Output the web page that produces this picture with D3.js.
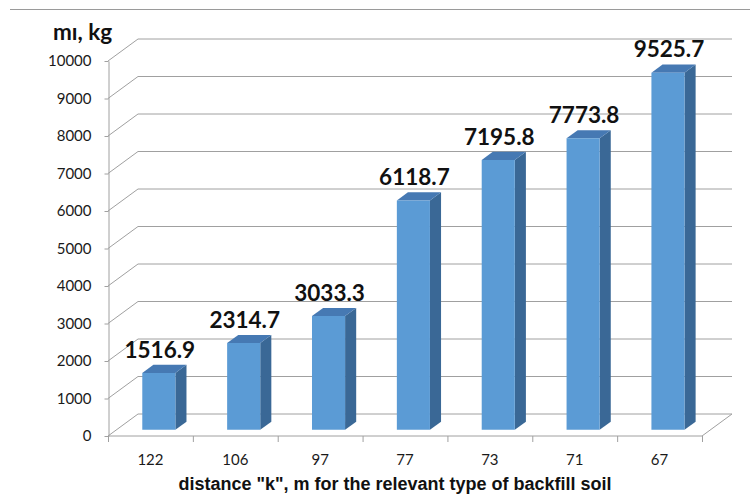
<!DOCTYPE html>
<html>
<head>
<meta charset="utf-8">
<script src="https://cdn.jsdelivr.net/npm/d3@7"></script>
<style>
  html, body { margin: 0; padding: 0; background: #fff; }
  svg { display: block; }
</style>
</head>
<body>
<svg id="chart" width="753" height="498"></svg>
<script>
// Mass per distance category
const categories = ["122", "106", "97", "77", "73", "71", "67"];
const values = [1516.9, 2314.7, 3033.3, 6118.7, 7195.8, 7773.8, 9525.7];
const yTicks = [0, 1000, 2000, 3000, 4000, 5000, 6000, 7000, 8000, 9000, 10000];
const yTitle = "mı, kg";
const xTitle = "distance \"k\", m for the relevant type of backfill soil";

const svg = d3.select("#chart");

// Plot frame (front plane) and the oblique depth offset
const plotLeft = 108, plotRight = 702, plotBottom = 436, plotTop = 61;
const DX = 30, DY = -22;          // full depth of the floor/walls
const F0 = 0.28, F1 = 0.65;       // bar depth span (fraction of floor depth)
const gridColor = "#a0a0a0";

const x = d3.scaleBand().domain(categories).range([plotLeft, plotRight]).padding(0);
const y = d3.scaleLinear().domain([0, 10000]).range([plotBottom, plotTop]);
const barW = x.bandwidth() * 0.39;

// projection of (x, value, depth fraction) to screen
const P = (px, v, f) => [px + f * DX, y(v) + f * DY];
const pts = (arr) => arr.map(p => p.join(",")).join(" ");

// top rule
svg.append("line")
  .attr("x1", 10).attr("x2", 750).attr("y1", 9.5).attr("y2", 9.5)
  .attr("stroke", "#9a9a9a").attr("stroke-width", 1);

const grid = svg.append("g").attr("fill", "none").attr("stroke", gridColor).attr("stroke-width", 1);

// gridlines: left wall diagonal + back wall horizontal
yTicks.forEach(t => {
  grid.append("polyline")
    .attr("points", pts([P(plotLeft, t, 0), P(plotLeft, t, 1), P(plotRight, t, 1)]));
});

// floor: front edge and right edge
grid.append("polyline")
  .attr("points", pts([P(plotLeft, 0, 0), P(plotRight, 0, 0), P(plotRight, 0, 1)]));

// category boundary ticks
const bounds = categories.map(c => x(c)).concat([plotRight]);
bounds.forEach(bx => {
  grid.append("line").attr("x1", bx + 0.5).attr("x2", bx + 0.5)
    .attr("y1", plotBottom).attr("y2", plotBottom + 6);
});

// y axis
const yAxis = d3.axisLeft(y).tickValues(yTicks).tickSize(4).tickSizeOuter(0).tickPadding(13)
  .tickFormat(d3.format("d"));
const yg = svg.append("g").attr("transform", `translate(${plotLeft + 0.5},0)`).call(yAxis);
yg.select(".domain").attr("stroke", gridColor);
yg.selectAll(".tick line").attr("stroke", gridColor);
yg.selectAll(".tick text")
  .attr("font-family", "Lato, 'Open Sans', sans-serif")
  .attr("font-size", 15).attr("fill", "#1a1a1a");

// x category labels
const xAxis = d3.axisBottom(x).tickSize(0).tickPadding(0);
const xg = svg.append("g").attr("transform", `translate(0,${plotBottom})`).call(xAxis);
xg.select(".domain").remove();
xg.selectAll(".tick text")
  .attr("y", 29).attr("dy", 0)
  .attr("font-family", "Lato, 'Open Sans', sans-serif")
  .attr("font-size", 15).attr("fill", "#1a1a1a");

// 3D bars
const bars = svg.append("g");
categories.forEach((c, i) => {
  const v = values[i];
  const cx = x(c) + x.bandwidth() / 2;
  const x0 = cx - barW / 2, x1 = cx + barW / 2;
  // side face
  bars.append("polygon")
    .attr("points", pts([P(x1, 0, F0), P(x1, 0, F1), P(x1, v, F1), P(x1, v, F0)]))
    .attr("fill", "#3a6896");
  // top face
  bars.append("polygon")
    .attr("points", pts([P(x0, v, F0), P(x1, v, F0), P(x1, v, F1), P(x0, v, F1)]))
    .attr("fill", "#4679b3");
  // front face
  bars.append("polygon")
    .attr("points", pts([P(x0, 0, F0), P(x1, 0, F0), P(x1, v, F0), P(x0, v, F0)]))
    .attr("fill", "#5b9bd5");
  // value label
  const lp = P(cx, v, F1);
  bars.append("text")
    .attr("x", P(cx, v, F0)[0] + 1).attr("y", lp[1] - 7)
    .attr("text-anchor", "middle")
    .attr("font-family", "Lato, sans-serif").attr("font-weight", 700)
    .attr("font-size", 22.5).attr("fill", "#111")
    .text(d3.format(".1f")(v));
});

// axis titles
svg.append("text")
  .attr("x", 53).attr("y", 40)
  .attr("font-family", "Lato, sans-serif").attr("font-weight", 700)
  .attr("font-size", 22.5).attr("fill", "#111")
  .text(yTitle);

svg.append("text")
  .attr("x", 395).attr("y", 490).attr("text-anchor", "middle")
  .attr("font-family", "'Liberation Sans', Arial, sans-serif").attr("font-weight", 700)
  .attr("font-size", 18).attr("fill", "#111")
  .text(xTitle);
</script>
</body>
</html>
